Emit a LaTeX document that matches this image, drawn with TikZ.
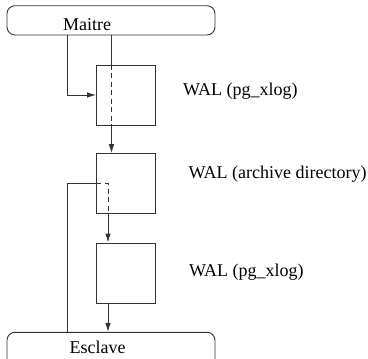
\documentclass[tikz,border=0pt]{standalone}
\usepackage{fontspec}
\setmainfont{Liberation Serif}
\newfontfamily\labelserif{Liberation Serif}
\usetikzlibrary{arrows.meta}
\begin{document}
\begin{tikzpicture}[x=1pt,y=-1pt,
  ln/.style={draw=black!80, line width=0.9pt},
  walbox/.style={ln, rectangle, minimum width=59pt, minimum height=60pt, inner sep=0pt},
  hostbox/.style={ln, rectangle, rounded corners=8pt, minimum width=208pt, inner sep=0pt},
  lbl/.style={font=\labelserif\fontsize{18}{21}\selectfont, inner sep=0pt, anchor=base west, text=black},
  arr/.style={ln, -{Latex[length=9pt,width=5.5pt]}},
  dsh/.style={ln, dash pattern=on 5pt off 3.5pt}]
\clip (0,0) rectangle (368,359);
% hosts
\node[hostbox, minimum height=29.3pt] (maitre) at (111,20.35) {};
\node[hostbox, minimum height=36pt] (esclave) at (111,350.3) {};
\node[lbl] (maitrelbl) at (63,30) {Maitre};
\node[lbl] (esclavelbl) at (69.5,353) {Esclave};
% WAL boxes
\node[walbox] (box1) at (126,95) {};
\node[walbox] (box2) at (126,183.65) {};
\node[walbox] (box3) at (126,273) {};
\node[lbl] (lbl1) at (183,95.5) {WAL (pg\_xlog)};
\node[lbl] (lbl2) at (188.5,178) {WAL (archive directory)};
\node[lbl] (lbl3) at (189,276) {WAL (pg\_xlog)};
% x positions of the vertical lines
\coordinate (xl) at (67,0);
\coordinate (xa) at (111.5,0);
\coordinate (xb) at (108,0);
% master to box1
\draw[arr] (maitre.south -| xl) |- (box1.west);
\draw[ln] (maitre.south -| xa) -- (box1.north -| xa);
\draw[dsh] (box1.north -| xa) -- (box1.south -| xa);
\draw[arr] (box1.south -| xa) -- (box2.north -| xa);
% slave side
\draw[ln] (esclave.north -| xl) |- (box2.west);
\draw[dsh] (box2.west) -| (box2.south -| xb);
\draw[arr] (box2.south -| xb) -- (box3.north -| xb);
\draw[arr] (box3.south -| xb) -- (esclave.north -| xb);
\end{tikzpicture}
\end{document}
